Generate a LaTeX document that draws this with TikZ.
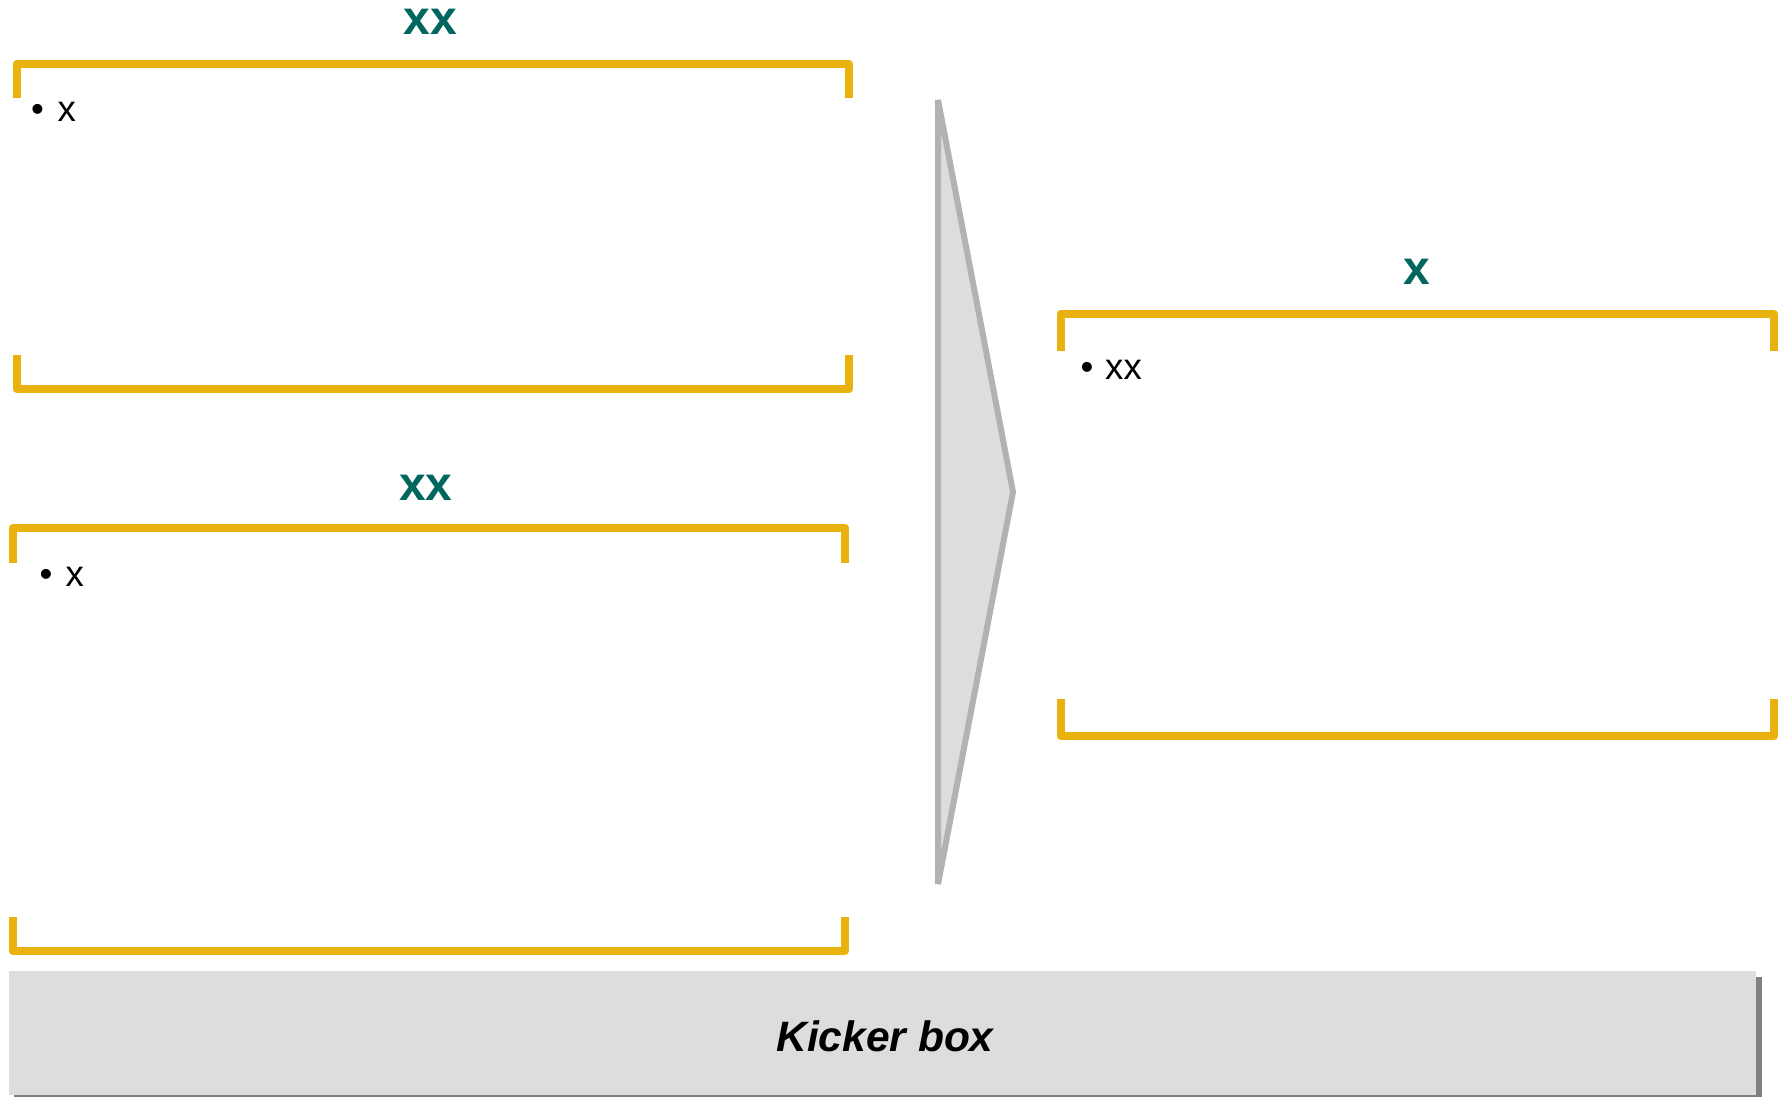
\documentclass[tikz,border=0pt]{standalone}
\usepackage{fontspec}
\setmainfont{Liberation Sans}
\definecolor{gold}{RGB}{234,178,14}
\definecolor{tealtitle}{RGB}{0,102,94}
\definecolor{arrowfill}{RGB}{221,221,221}
\definecolor{arrowline}{RGB}{178,178,178}
\definecolor{kickfill}{RGB}{221,221,221}
\definecolor{shadowgray}{RGB}{128,128,128}
\begin{document}
\begin{tikzpicture}[x=1pt,y=-1pt,
  bracket/.style={draw=gold,line width=8pt,line join=round},
  titletext/.style={text=tealtitle,font=\fontsize{48}{48}\selectfont\bfseries,inner sep=0pt,anchor=base},
  bullettext/.style={font=\fontsize{36.6}{36.6}\selectfont,inner sep=0pt,anchor=base west},
  kickerbox/.style={fill=kickfill,inner sep=0pt,minimum width=1747pt,minimum height=124pt},
  kickertext/.style={font=\fontsize{42.5}{42.5}\selectfont\bfseries\itshape,inner sep=0pt,anchor=base},
  chevron/.style={fill=arrowfill,draw=arrowline,line width=6pt,line join=miter}]
\useasboundingbox (0,0) rectangle (1783,1097);

% upper left bracket
\draw[bracket] (16.5,98) -- (16.5,64) -- (849,64) -- (849,98);
\draw[bracket] (16.5,355) -- (16.5,389) -- (849,389) -- (849,355);
\node[titletext] (t1) at (430.5,35) {xx};
\node[bullettext] (b1) at (31,122) {•};
\node[bullettext] (l1) at (57.5,122) {x};

% lower left bracket
\draw[bracket] (12.5,563) -- (12.5,528) -- (845,528) -- (845,563);
\draw[bracket] (12.5,917) -- (12.5,951) -- (845,951) -- (845,917);
\node[titletext] (t2) at (426,500) {xx};
\node[bullettext] (b2) at (39.5,586) {•};
\node[bullettext] (l2) at (65.5,586) {x};

% chevron arrow
\draw[chevron] (938,100) -- (1013,492) -- (938,884) -- cycle;

% right bracket
\draw[bracket] (1060.5,351) -- (1060.5,313.5) -- (1774,313.5) -- (1774,351);
\draw[bracket] (1060.5,699) -- (1060.5,736) -- (1774,736) -- (1774,699);
\node[titletext] (t3) at (1417,284) {x};
\node[bullettext] (b3) at (1080.5,379) {•};
\node[bullettext] (l3) at (1105,379) {xx};

% kicker box
\fill[shadowgray] (14,977) rectangle (1762,1100);
\node[kickerbox] (kicker) at (882.5,1033) {};
\node[kickertext] (kickerlabel) at (885,1051) {Kicker box};
\end{tikzpicture}
\end{document}
